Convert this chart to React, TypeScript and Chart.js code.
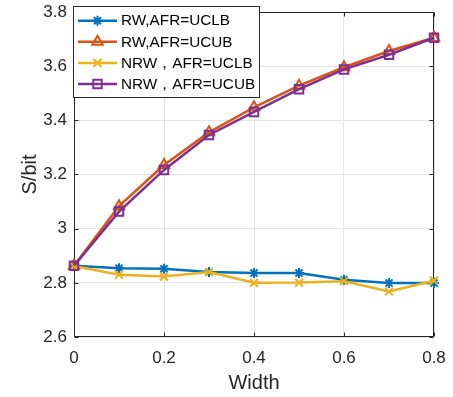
import React, { useEffect, useRef } from 'react';
import { Chart, registerables } from 'chart.js';
import { drawPoint } from 'chart.js/helpers';

Chart.register(...registerables);

const widths = [0, 0.1, 0.2, 0.3, 0.4, 0.5, 0.6, 0.7, 0.8];
const rwUCLB = [2.863, 2.854, 2.852, 2.840, 2.836, 2.836, 2.811, 2.799, 2.799];
const rwUCUB = [2.863, 3.083, 3.235, 3.356, 3.448, 3.528, 3.596, 3.656, 3.705];
const nrwUCLB = [2.862, 2.830, 2.823, 2.840, 2.800, 2.801, 2.806, 2.768, 2.808];
const nrwUCUB = [2.863, 3.063, 3.217, 3.346, 3.431, 3.515, 3.588, 3.642, 3.705];
const seriesLabels = ['RW,AFR=UCLB', 'RW,AFR=UCUB', 'NRW，AFR=UCLB', 'NRW，AFR=UCUB'];
const xTicks = [0, 0.2, 0.4, 0.6, 0.8];
const yTicks = [2.6, 2.8, 3.0, 3.2, 3.4, 3.6, 3.8];
const xTitle = 'Width';
const yTitle = 'S/bit';

const FONT = '"Liberation Sans", Arial, Helvetica, sans-serif';
const AXIS = '#262626';
const GRID = '#e4e4e4';

const styles = [
  { color: '#0072BD', pointStyle: 'star', radius: 5 },
  { color: '#D95319', pointStyle: 'triangle', radius: 6 },
  { color: '#EDB120', pointStyle: 'crossRot', radius: 5.5 },
  { color: '#7E2F8E', pointStyle: 'rect', radius: 6 },
];

const frameAndLegend = {
  id: 'frameAndLegend',
  beforeDatasetsDraw(chart: any) {
    const { ctx, chartArea: a } = chart;
    const xs = chart.scales.x;
    const ys = chart.scales.y;
    ctx.save();
    ctx.strokeStyle = AXIS;
    ctx.lineWidth = 1;
    ctx.beginPath();
    const L = Math.round(a.left) + 0.5, R = Math.round(a.right) - 0.5;
    const T = Math.round(a.top) + 0.5, B = Math.round(a.bottom) - 0.5;
    ctx.rect(L, T, R - L, B - T);
    const tl = 4;
    for (const v of xTicks) {
      const px = Math.round(xs.getPixelForValue(v)) + 0.5;
      ctx.moveTo(px, B); ctx.lineTo(px, B - tl);
      ctx.moveTo(px, T); ctx.lineTo(px, T + tl);
    }
    for (const v of yTicks) {
      const py = Math.round(ys.getPixelForValue(v)) + 0.5;
      ctx.moveTo(L, py); ctx.lineTo(L + tl, py);
      ctx.moveTo(R, py); ctx.lineTo(R - tl, py);
    }
    ctx.stroke();
    ctx.restore();
  },
  afterDraw(chart: any) {
    const { ctx } = chart;
    ctx.save();
    const bx = 73.5, by = 6.5, bw = 186, bh = 91;
    ctx.fillStyle = '#ffffff';
    ctx.fillRect(bx, by, bw, bh);
    ctx.strokeStyle = AXIS;
    ctx.lineWidth = 1;
    ctx.strokeRect(bx, by, bw, bh);
    chart.data.datasets.forEach((ds: any, i: number) => {
      const y = 20.7 + i * 21.1;
      ctx.strokeStyle = ds.borderColor;
      ctx.lineWidth = 2.5;
      ctx.beginPath();
      ctx.moveTo(78, y);
      ctx.lineTo(117, y);
      ctx.stroke();
      ctx.fillStyle = 'rgba(0,0,0,0)';
      ctx.strokeStyle = ds.borderColor;
      ctx.lineWidth = 2;
      drawPoint(ctx, { pointStyle: ds.pointStyle, radius: ds.pointRadius, borderWidth: 2, rotation: 0 } as any, 97.5, y);
      ctx.fillStyle = '#000000';
      ctx.font = `15.3px ${FONT}`;
      ctx.textBaseline = 'middle';
      ctx.textAlign = 'left';
      ctx.fillText(ds.label, 121, y + 0.5);
    });
    ctx.restore();
  },
};

export default function App() {
  const ref = useRef<HTMLCanvasElement | null>(null);
  useEffect(() => {
    if (!ref.current) return;
    const series = [rwUCLB, rwUCUB, nrwUCLB, nrwUCUB];
    const chart = new Chart(ref.current, {
      type: 'line',
      data: {
        datasets: series.map((s, i) => ({
          label: seriesLabels[i],
          data: s.map((v, j) => ({ x: widths[j], y: v })),
          borderColor: styles[i].color,
          backgroundColor: 'rgba(0,0,0,0)',
          pointBackgroundColor: 'rgba(0,0,0,0)',
          pointBorderColor: styles[i].color,
          pointStyle: styles[i].pointStyle as any,
          pointRadius: styles[i].radius,
          pointBorderWidth: 2,
          borderWidth: 2.5,
          tension: 0,
          clip: false as any,
          order: 4 - i,
        })),
      },
      options: {
        animation: false,
        responsive: false,
        maintainAspectRatio: false,
        layout: { padding: { top: 12, right: 19, left: 0, bottom: 0 } },
        plugins: { legend: { display: false }, tooltip: { enabled: false } },
        scales: {
          x: {
            type: 'linear',
            min: 0,
            max: 0.8,
            afterBuildTicks: (s: any) => { s.ticks = xTicks.map((v) => ({ value: v })); },
            afterFit: (s: any) => { s.height = 60; s.paddingLeft = 0; s.paddingRight = 0; },
            ticks: {
              callback: (v: any) => String(+Number(v).toFixed(1)),
              font: { family: FONT, size: 17 },
              color: AXIS,
              padding: 11,
              maxRotation: 0,
              autoSkip: false,
            },
            grid: { color: GRID, drawTicks: false, lineWidth: 1 },
            border: { display: false },
            title: { display: true, text: xTitle, font: { family: FONT, size: 20 }, color: AXIS, padding: { top: 0, bottom: 2 } },
          },
          y: {
            type: 'linear',
            min: 2.6,
            max: 3.8,
            afterBuildTicks: (s: any) => { s.ticks = yTicks.map((v) => ({ value: v })); },
            afterFit: (s: any) => { s.width = 74; s.paddingTop = 0; s.paddingBottom = 0; },
            ticks: {
              callback: (v: any) => String(+Number(v).toFixed(1)),
              font: { family: FONT, size: 17 },
              color: AXIS,
              padding: 7,
              autoSkip: false,
            },
            grid: { color: GRID, drawTicks: false, lineWidth: 1 },
            border: { display: false },
            title: { display: true, text: yTitle, font: { family: FONT, size: 20 }, color: AXIS, padding: { top: 18, bottom: 0 } },
          },
        },
      },
      plugins: [frameAndLegend],
    });
    return () => chart.destroy();
  }, []);
  return (
    <div style={{ position: 'absolute', left: 0, top: 0, width: 453, height: 397, background: '#fff' }}>
      <canvas ref={ref} width={453} height={397} style={{ display: 'block', width: 453, height: 397 }} />
    </div>
  );
}
